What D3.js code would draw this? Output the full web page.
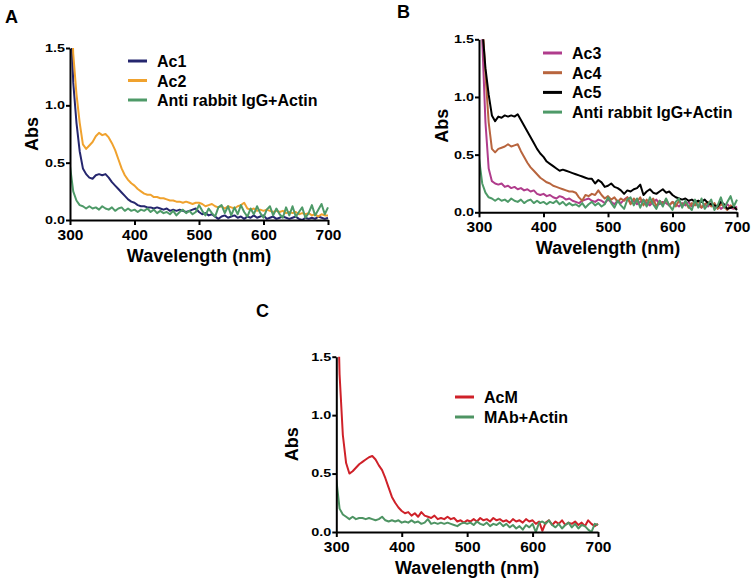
<!DOCTYPE html>
<html><head><meta charset="utf-8">
<script src="https://cdn.jsdelivr.net/npm/d3@7"></script>
<style>
html,body{margin:0;padding:0;background:#fff;}
svg{display:block;font-family:"Liberation Sans",Arial,Helvetica,sans-serif;font-weight:bold;}
</style></head>
<body>
<svg id="chart" width="754" height="584"></svg>
<script>
const wavelengths = [300,305,310,315,320,325,330,335,340,345,350,355,360,365,370,375,380,385,390,395,
400,405,410,415,420,425,430,435,440,445,450,455,460,465,470,475,480,485,490,495,
500,505,510,515,520,525,530,535,540,545,550,555,560,565,570,575,580,585,590,595,
600,605,610,615,620,625,630,635,640,645,650,655,660,665,670,675,680,685,690,695,700];

const ac1 = [2.0,1.2,0.85,0.6,0.45,0.40,0.37,0.36,0.39,0.40,0.39,0.40,0.37,0.33,0.30,0.27,0.24,0.21,0.18,0.16,
0.15,0.13,0.12,0.12,0.11,0.11,0.10,0.11,0.10,0.09,0.10,0.08,0.09,0.08,0.09,0.08,0.07,0.08,0.09,0.10,
0.07,0.05,0.06,0.04,0.05,0.03,0.01,0.03,0.04,0.02,0.03,0.04,0.02,0.03,0.01,0.03,0.02,0.04,0.02,0.03,
0.04,0.01,0.02,0.03,0.01,0.02,0.03,0.02,0.01,0.02,0.03,0.01,0.00,0.02,0.01,0.02,0.01,0.03,0.02,0.01,0.02];

const ac2 = [2.2,1.45,1.1,0.85,0.66,0.62,0.65,0.68,0.73,0.76,0.74,0.75,0.72,0.67,0.61,0.53,0.45,0.39,0.35,0.32,
0.30,0.27,0.25,0.23,0.22,0.22,0.20,0.20,0.19,0.19,0.18,0.17,0.17,0.16,0.16,0.15,0.16,0.15,0.14,0.15,
0.15,0.14,0.12,0.13,0.14,0.12,0.11,0.12,0.10,0.12,0.11,0.10,0.12,0.13,0.15,0.10,0.09,0.10,0.08,0.09,
0.08,0.09,0.08,0.07,0.08,0.07,0.08,0.06,0.07,0.06,0.07,0.05,0.06,0.05,0.06,0.04,0.05,0.03,0.05,0.04,0.04];

const rabbitIgG = [0.47,0.25,0.17,0.13,0.12,0.10,0.12,0.10,0.11,0.09,0.12,0.10,0.09,0.11,0.08,0.10,0.11,0.08,0.10,0.08,
0.09,0.07,0.09,0.08,0.10,0.07,0.09,0.06,0.08,0.06,0.07,0.05,0.08,0.04,0.07,0.09,0.06,0.08,0.05,0.07,
0.13,0.08,0.04,0.10,0.06,0.03,0.11,0.13,0.06,0.12,0.04,0.11,0.05,0.13,0.07,0.03,0.10,0.05,0.12,0.06,
0.02,0.09,0.12,0.04,0.10,0.05,0.02,0.11,0.04,0.12,0.03,0.07,0.11,0.02,0.06,0.13,0.04,0.09,0.14,0.05,0.11];

const ac3 = [2.2,1.5,0.78,0.38,0.27,0.25,0.24,0.25,0.22,0.23,0.21,0.22,0.20,0.21,0.19,0.20,0.18,0.19,0.16,0.15,
0.16,0.14,0.15,0.13,0.12,0.14,0.13,0.11,0.12,0.10,0.09,0.08,0.10,0.11,0.12,0.10,0.09,0.11,0.10,0.08,
0.11,0.09,0.07,0.10,0.08,0.11,0.13,0.08,0.10,0.07,0.09,0.11,0.08,0.06,0.09,0.11,0.07,0.09,0.08,0.06,
0.09,0.07,0.05,0.08,0.06,0.09,0.05,0.07,0.06,0.04,0.07,0.05,0.08,0.04,0.06,0.03,0.05,0.07,0.04,0.03,0.05];

const ac4 = [2.2,1.7,1.2,0.78,0.55,0.52,0.55,0.56,0.57,0.59,0.57,0.58,0.59,0.53,0.48,0.43,0.39,0.36,0.33,0.30,
0.28,0.26,0.25,0.23,0.22,0.21,0.20,0.19,0.18,0.18,0.17,0.13,0.10,0.15,0.14,0.16,0.15,0.19,0.15,0.12,
0.14,0.11,0.13,0.09,0.12,0.10,0.13,0.07,0.12,0.09,0.13,0.06,0.11,0.08,0.12,0.05,0.10,0.07,0.11,0.06,
0.09,0.05,0.10,0.06,0.09,0.04,0.08,0.06,0.10,0.04,0.07,0.09,0.05,0.08,0.03,0.07,0.05,0.02,0.06,0.04,0.03];

const ac5 = [2.2,1.6,1.25,1.02,0.84,0.79,0.83,0.82,0.84,0.83,0.84,0.83,0.85,0.80,0.75,0.70,0.65,0.60,0.55,0.51,
0.48,0.44,0.42,0.40,0.38,0.36,0.37,0.36,0.35,0.34,0.33,0.32,0.31,0.30,0.29,0.29,0.25,0.28,0.26,0.22,
0.23,0.25,0.22,0.21,0.19,0.16,0.19,0.18,0.20,0.21,0.24,0.15,0.18,0.20,0.17,0.16,0.18,0.20,0.17,0.18,
0.15,0.13,0.12,0.11,0.12,0.10,0.11,0.09,0.10,0.09,0.11,0.08,0.07,0.06,0.05,0.09,0.07,0.03,0.04,0.05,0.02];

const acM = [2.5,1.35,0.83,0.59,0.50,0.52,0.55,0.58,0.60,0.62,0.64,0.65,0.62,0.57,0.53,0.46,0.38,0.30,0.25,0.21,
0.18,0.16,0.17,0.14,0.16,0.13,0.17,0.14,0.13,0.12,0.14,0.11,0.12,0.11,0.13,0.11,0.12,0.09,0.10,0.08,
0.10,0.09,0.11,0.09,0.12,0.10,0.11,0.09,0.12,0.10,0.11,0.09,0.10,0.08,0.11,0.09,0.10,0.08,0.11,0.09,
0.10,0.07,0.09,0.01,0.08,0.10,0.06,0.09,0.07,0.10,0.06,0.08,0.07,0.09,0.06,0.08,0.05,0.10,0.07,0.05,0.07];

const mAbActin = [0.45,0.20,0.15,0.13,0.11,0.13,0.11,0.12,0.12,0.11,0.12,0.11,0.10,0.11,0.13,0.10,0.09,0.10,0.09,0.10,
0.08,0.09,0.08,0.10,0.08,0.09,0.07,0.08,0.11,0.07,0.08,0.07,0.08,0.07,0.08,0.07,0.06,0.05,0.07,0.08,
0.07,0.08,0.06,0.09,0.07,0.06,0.08,0.05,0.07,0.06,0.08,0.05,0.07,0.04,0.06,0.03,0.05,0.02,0.06,0.04,
0.07,0.00,0.08,0.09,0.07,0.10,0.06,0.04,0.07,0.03,0.06,0.08,0.04,0.07,0.03,0.06,0.05,0.02,0.00,0.07,0.06];

const xTicks = [300,400,500,600,700];
const yTicks = [0,0.5,1.0,1.5];

const panels = [
  {letter:"A", lx:5, ly:23, x0:70, x1:328, yT:48, yB:220, absDx:38, legX:128, legY:61, legDy:19.5,
   series:[{name:"Ac1", v:ac1, c:"#25266e"},{name:"Ac2", v:ac2, c:"#f0a22e"},{name:"Anti rabbit IgG+Actin", v:rabbitIgG, c:"#4e9a68"}]},
  {letter:"B", lx:397, ly:18, x0:479, x1:737, yT:39.3, yB:212.3, absDx:37, legX:543, legY:53, legDy:19.7,
   series:[{name:"Ac3", v:ac3, c:"#b03c8c"},{name:"Ac4", v:ac4, c:"#b8653e"},{name:"Ac5", v:ac5, c:"#000000"},{name:"Anti rabbit IgG+Actin", v:rabbitIgG, c:"#4e9a68"}]},
  {letter:"C", lx:256, ly:317, x0:336.3, x1:598, yT:356.7, yB:532, absDx:44, legX:455, legY:397, legDy:20,
   series:[{name:"AcM", v:acM, c:"#cf2129"},{name:"MAb+Actin", v:mAbActin, c:"#4e9463"}]}
];

const svg = d3.select("#chart");

panels.forEach((p,i) => {
  const x = d3.scaleLinear().domain([300,700]).range([p.x0,p.x1]);
  const y = d3.scaleLinear().domain([0,1.5]).range([p.yB,p.yT]);
  const g = svg.append("g");

  g.append("text").attr("x",p.lx).attr("y",p.ly).attr("font-size",18).text(p.letter);

  const clipId = "clip"+i;
  svg.append("clipPath").attr("id",clipId).append("rect")
    .attr("x",p.x0).attr("y",p.yT).attr("width",p.x1-p.x0+2).attr("height",p.yB-p.yT);

  const line = d3.line().x((d,j)=>x(wavelengths[j])).y(d=>y(d));
  const lines = g.append("g").attr("clip-path","url(#"+clipId+")");
  p.series.forEach(s => {
    lines.append("path").datum(s.v).attr("d",line)
      .attr("fill","none").attr("stroke",s.c).attr("stroke-width",2).attr("stroke-linejoin","round");
  });

  const xa = g.append("g").attr("transform",`translate(0,${p.yB})`)
    .call(d3.axisBottom(x).tickValues(xTicks).tickSize(5).tickSizeOuter(0).tickPadding(4).tickFormat(d3.format("d")));
  const ya = g.append("g").attr("transform",`translate(${p.x0},0)`)
    .call(d3.axisLeft(y).tickValues(yTicks).tickSize(4).tickSizeOuter(0).tickPadding(1).tickFormat(d3.format(".1f")));
  [xa,ya].forEach(a => {
    a.select(".domain").attr("stroke","#000").attr("stroke-width",2);
    a.selectAll(".tick line").attr("stroke","#000").attr("stroke-width",2);
    a.selectAll("text").attr("fill","#000").attr("font-family",null);
  });
  xa.selectAll("text").attr("font-size",15.5).attr("font-weight","bold");
  ya.selectAll("text").attr("font-size",10.5).attr("font-weight","bold")
    .attr("textLength",20).attr("lengthAdjust","spacingAndGlyphs");

  g.append("text").attr("font-size",18)
    .attr("transform",`translate(${p.x0-p.absDx},${(p.yT+p.yB)/2}) rotate(-90)`)
    .attr("text-anchor","middle").attr("dominant-baseline","central").text("Abs");
  g.append("text").attr("font-size",18).attr("x",(p.x0+p.x1)/2).attr("y",p.yB+42)
    .attr("text-anchor","middle").text("Wavelength (nm)");

  p.series.forEach((s,k) => {
    const yy = p.legY + k*p.legDy;
    g.append("line").attr("x1",p.legX).attr("x2",p.legX+19).attr("y1",yy).attr("y2",yy)
      .attr("stroke",s.c).attr("stroke-width",3);
    g.append("text").attr("x",p.legX+29).attr("y",yy+6).attr("font-size",16).text(s.name);
  });
});
</script>
</body></html>
